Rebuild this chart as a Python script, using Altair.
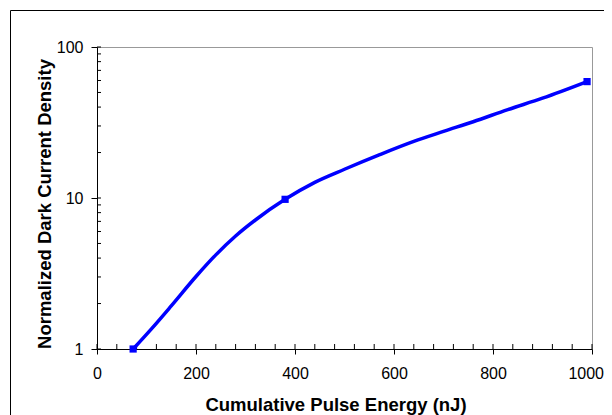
import altair as alt
import pandas as pd

# Curve
energy = [73, 110, 150, 200, 240, 280, 320, 380, 440, 500, 570, 640, 700, 760, 830, 900, 990]
density = [1.0, 1.36, 1.93, 3.02, 4.2, 5.6, 7.15, 9.8, 12.7, 15.5, 19.3, 23.7, 27.6, 32.0, 38.5, 45.8, 59.0]

# Marked points
marker_energy = [73, 380, 990]
marker_density = [1.0, 9.8, 59.0]

# Axis tick values
x_major = [0, 200, 400, 600, 800, 1000]
x_minor = [0, 40, 80, 120, 160, 200, 240, 280, 320, 360, 400, 440, 480, 520, 560,
           600, 640, 680, 720, 760, 800, 840, 880, 920, 960, 1000]
y_major = [1, 10, 100]
y_minor = [1, 2, 3, 4, 5, 6, 7, 8, 9, 10, 20, 30, 40, 50, 60, 70, 80, 90, 100]

FONT = "Liberation Sans"
W, H = 495, 302

line_df = pd.DataFrame({"energy": energy, "density": density})
mark_df = pd.DataFrame({"energy": marker_energy, "density": marker_density})

xscale = alt.Scale(domain=[0, 1000], nice=False, zero=False)
yscale = alt.Scale(type="log", domain=[1, 100], nice=False)

x_axis = alt.Axis(
    values=x_major, format="d", title="Cumulative Pulse Energy (nJ)", grid=False,
    domainColor="black", domainWidth=1, tickColor="black", tickSize=5, tickWidth=1,
    labelFont=FONT, labelFontSize=16, labelColor="black", labelPadding=11,
    labelFlush=False, labelOverlap=False,
    labelAlign={"condition": {"test": "datum.value == 1000", "value": "right"}, "value": "center"},
    labelOffset={"condition": {"test": "datum.value == 1000", "value": 11.5}, "value": 0},
    titleFont=FONT, titleFontSize=18.5, titleFontWeight="bold", titleColor="black",
    titleX=238.5, titleY=61, titleBaseline="alphabetic", titleAlign="center",
)
y_axis = alt.Axis(
    values=y_major, format="d", title="Normalized Dark Current Density", grid=False,
    domainColor="black", domainWidth=1, tickColor="black", tickSize=6, tickWidth=1,
    labelFont=FONT, labelFontSize=16, labelColor="black", labelPadding=8,
    labelFlush=False, labelOverlap=False,
    titleFont=FONT, titleFontSize=18.5, titleFontWeight="bold", titleColor="black",
    titleX=-46.5, titleY=156.5, titleAngle=270, titleBaseline="alphabetic", titleAlign="center",
)

line = alt.Chart(line_df).mark_line(color="#0000FF", strokeWidth=3.5, interpolate="monotone").encode(
    x=alt.X("energy:Q", scale=xscale, axis=x_axis),
    y=alt.Y("density:Q", scale=yscale, axis=y_axis),
)
markers = alt.Chart(mark_df).mark_square(size=52, color="#0000FF", opacity=1).encode(
    x=alt.X("energy:Q", scale=xscale, axis=x_axis),
    y=alt.Y("density:Q", scale=yscale, axis=y_axis),
)
x_in = alt.Chart(pd.DataFrame({"energy": x_minor})).mark_rule(color="black", strokeWidth=1).encode(
    x=alt.X("energy:Q", scale=xscale, axis=x_axis), y=alt.value(H), y2=alt.value(H - 5)
)
y_in = alt.Chart(pd.DataFrame({"density": y_minor})).mark_rule(color="black", strokeWidth=1).encode(
    y=alt.Y("density:Q", scale=yscale, axis=y_axis), x=alt.value(0), x2=alt.value(4)
)
frame_top = alt.Chart(pd.DataFrame({"a": [0]})).mark_rule(color="black", strokeWidth=1).encode(
    x=alt.value(-86.5), x2=alt.value(507), y=alt.value(-36.5)
)
frame_left = alt.Chart(pd.DataFrame({"a": [0]})).mark_rule(color="black", strokeWidth=1).encode(
    x=alt.value(-86.5), y=alt.value(-36.5), y2=alt.value(370)
)

chart = alt.layer(x_in, y_in, line, markers, frame_top, frame_left).properties(
    width=W, height=H,
    autosize=alt.AutoSizeParams(type="none"),
    padding={"left": 89, "top": 39, "right": 12, "bottom": 66},
    background="white",
).configure_view(stroke="#999999", strokeWidth=1)

chart.save("out.html", embed_options={"renderer": "svg", "actions": False})
